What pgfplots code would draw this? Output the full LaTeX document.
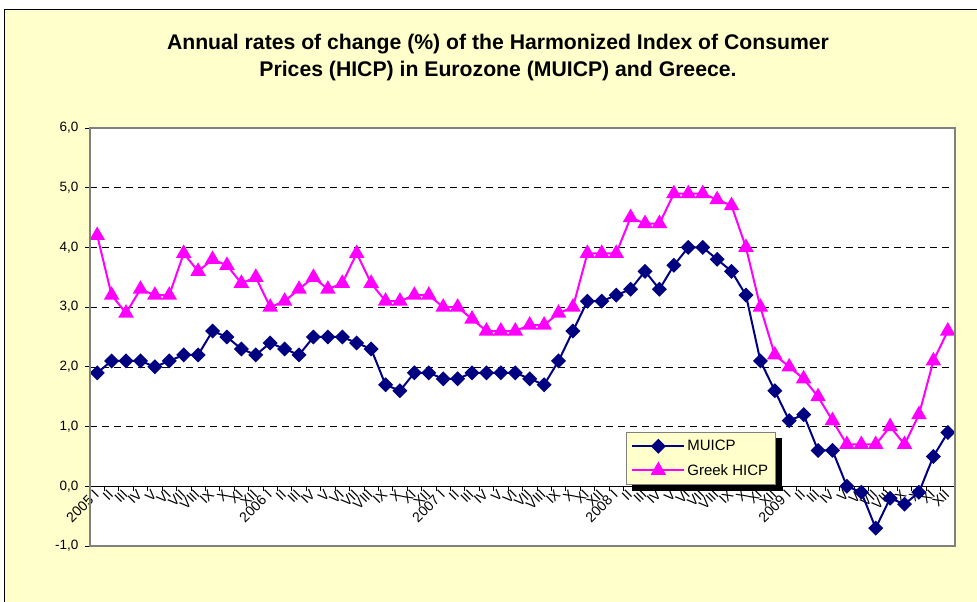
\documentclass[border=0pt]{standalone}
\usepackage{pgfplots}
\pgfplotsset{compat=1.18}
\usepackage{pgfplotstable}
\usepackage{fontspec}
\setmainfont{Liberation Sans}
\definecolor{bgyellow}{HTML}{FFFFCC}
\definecolor{navyc}{HTML}{000080}
\definecolor{magc}{HTML}{FF00FF}
\pgfplotstableread{
x mu gr
0 1.9 4.2
1 2.1 3.2
2 2.1 2.9
3 2.1 3.3
4 2.0 3.2
5 2.1 3.2
6 2.2 3.9
7 2.2 3.6
8 2.6 3.8
9 2.5 3.7
10 2.3 3.4
11 2.2 3.5
12 2.4 3.0
13 2.3 3.1
14 2.2 3.3
15 2.5 3.5
16 2.5 3.3
17 2.5 3.4
18 2.4 3.9
19 2.3 3.4
20 1.7 3.1
21 1.6 3.1
22 1.9 3.2
23 1.9 3.2
24 1.8 3.0
25 1.8 3.0
26 1.9 2.8
27 1.9 2.6
28 1.9 2.6
29 1.9 2.6
30 1.8 2.7
31 1.7 2.7
32 2.1 2.9
33 2.6 3.0
34 3.1 3.9
35 3.1 3.9
36 3.2 3.9
37 3.3 4.5
38 3.6 4.4
39 3.3 4.4
40 3.7 4.9
41 4.0 4.9
42 4.0 4.9
43 3.8 4.8
44 3.6 4.7
45 3.2 4.0
46 2.1 3.0
47 1.6 2.2
48 1.1 2.0
49 1.2 1.8
50 0.6 1.5
51 0.6 1.1
52 0.0 0.7
53 -0.1 0.7
54 -0.7 0.7
55 -0.2 1.0
56 -0.3 0.7
57 -0.1 1.2
58 0.5 2.1
59 0.9 2.6
}\data
\begin{document}
\begin{tikzpicture}[x=1pt,y=1pt]
\useasboundingbox (0,0) rectangle (977,602);
\fill[bgyellow] (4,-5) rectangle (985,592);
\draw[black, line width=1pt] (4,-5) -- (4,592) -- (985,592);
\node[font=\fontsize{21.2}{27}\selectfont\bfseries, align=center] at (498,544)
 {Annual rates of change (\%) of the Harmonized Index of Consumer\\Prices (HICP) in Eurozone (MUICP) and Greece.};
\begin{axis}[
  at={(90pt,56pt)}, anchor=south west, scale only axis,
  width=865pt, height=418pt,
  xmin=-0.5, xmax=59.5, ymin=-1, ymax=6,
  axis x line*=middle, axis y line*=left,
  hide obscured x ticks=false, hide obscured y ticks=false,
  axis line style={-},
  x axis line style={black, line width=1pt},
  y axis line style={gray, line width=2pt},
  axis background/.style={fill=white},
  ytick={-1,0,...,6},
  ymajorgrids,
  major grid style={black, line width=0.7pt, dash pattern=on 7pt off 5pt},
  xtick={-0.5,0.5,...,59.5},
  x tick label as interval,
  xticklabels={2005 I,II,III,IV,V,VI,VII,VIII,IX,X,XI,XII,
               2006 I,II,III,IV,V,VI,VII,VIII,IX,X,XI,XII,
               2007 I,II,III,IV,V,VI,VII,VIII,IX,X,XI,XII,
               2008 I,II,III,IV,V,VI,VII,VIII,IX,X,XI,XII,
               2009 I,II,III,IV,V,VI,VII,VIII,IX,X,XI,XII},
  xticklabel style={rotate=45, anchor=east, font=\fontsize{14}{16}\selectfont, inner sep=1pt},
  yticklabel style={font=\fontsize{13.5}{15}\selectfont, xshift=-3pt},
  tick align=outside,
  major tick length=5pt,
  tick style={black, line width=0.8pt},
  /pgf/number format/.cd, fixed, fixed zerofill, precision=1, use comma, assume math mode=true,
  /pgfplots/.cd,
  legend style={name=leg, at={(0.6197,0.2727)}, anchor=north west, fill=bgyellow, draw=gray,
    line width=0.6pt, font=\fontsize{15}{17}\selectfont, inner xsep=5pt, inner ysep=6pt, row sep=8pt},
  legend cell align=left,
  legend image code/.code={\draw[mark repeat=2,mark phase=2,#1] plot coordinates {(0pt,0pt) (26pt,0pt) (52pt,0pt)};},
]
\addplot[navyc, line width=2pt, mark=square*, mark size=4.3pt, mark options={rotate=45, solid}] table[x=x,y=mu]{\data};
\addlegendentry{MUICP}
\addplot[magc, line width=2pt, mark=triangle*, mark size=7pt, mark options={solid}] table[x=x,y=gr]{\data};
\addlegendentry{Greek HICP}
\end{axis}
\draw[gray, line width=2pt] (90,56) rectangle (955,474);
\fill[black] ([yshift=-6pt]leg.north east) rectangle ([xshift=6pt,yshift=-6pt]leg.south east);
\fill[black] ([xshift=6pt]leg.south west) rectangle ([xshift=6pt,yshift=-6pt]leg.south east);
\end{tikzpicture}
\end{document}
